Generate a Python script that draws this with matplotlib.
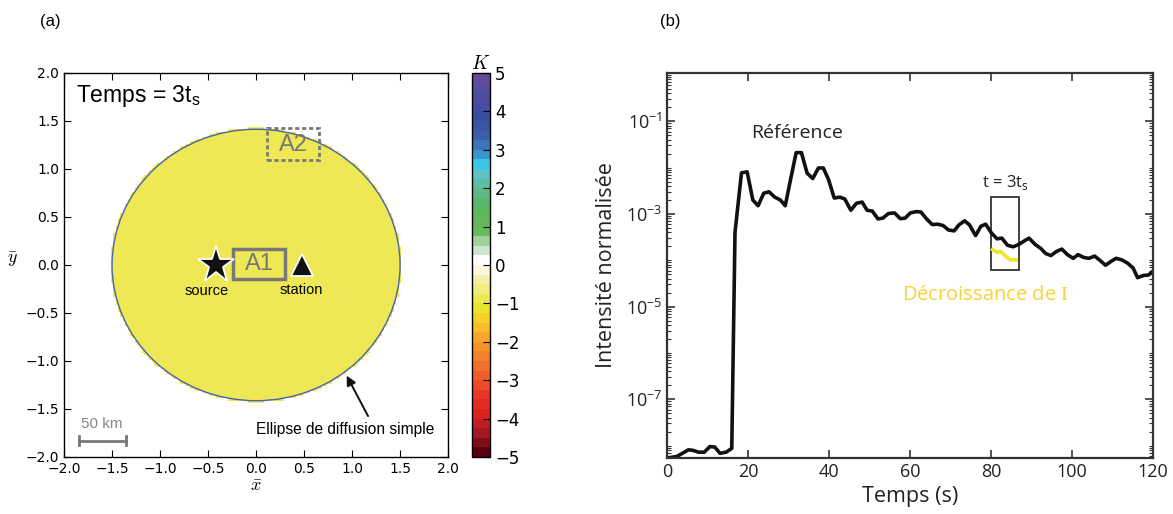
import numpy as np
import matplotlib
matplotlib.use("Agg")
import matplotlib.pyplot as plt
from matplotlib.colors import LinearSegmentedColormap, Normalize
from matplotlib.patches import Ellipse, Rectangle
from matplotlib.ticker import FixedLocator, LogLocator, NullFormatter

# ---- panel (a): K map ----
ellipse_center = (0.0, 0.0)
ellipse_a = 1.5
ellipse_b = 1.414
k_inside = -0.9
source_xy = (-0.42, 0.0)
station_xy = (0.48, 0.0)

cmap_pos = [-5, -4.5, -4, -3.5, -3, -2.5, -2, -1.5, -1.15, -0.9, -0.64, -0.385,
            -0.128, 0.128, 0.385, 0.64, 0.9, 1.5, 2, 2.5, 2.75, 3, 3.5, 4, 4.5, 5]
cmap_cols = ["#5c0010", "#a01a1f", "#d9201f", "#ea3326", "#ee5a2a", "#f07d2a",
             "#f5a02a", "#f9cb27", "#ebe42c", "#eee855", "#f0ec7e", "#f4f0a8",
             "#fbf8dc", "#ffffff", "#cde6cc", "#a3d19a", "#6bbb58", "#5bb55a",
             "#5bbb8d", "#5ec4d2", "#2ec5ee", "#3d87c8", "#3a5ca8", "#3a4d9f",
             "#4f4c9e", "#644b9a"]

# ---- panel (b): normalised intensity ----
t_ref = [0, 2.4, 3.8, 5.3, 6.4, 7.8, 9.2, 10.6, 11.8, 13.1, 14.6, 16.0, 16.8,
         18.4, 19.8, 21.2, 22.5, 23.9, 25.2, 26.6, 28.0, 29.2, 30.6, 31.9, 33.2,
         34.6, 36.0, 37.4, 38.6, 39.9, 41.3, 42.7, 43.9, 45.4, 46.8, 48.2, 49.4,
         50.7, 52.1, 53.3, 54.7, 56.2, 57.6, 58.8, 60.1, 61.5, 62.7, 64.1, 65.5,
         66.9, 68.2, 69.5, 70.9, 72.1, 73.5, 74.7, 76.2, 77.5, 78.7, 80.1, 81.5,
         82.7, 84.1, 85.5, 86.9, 88.2, 89.4, 90.9, 92.3, 93.5, 94.8, 96.2, 97.5,
         98.9, 100.3, 101.5, 102.9, 104.2, 105.6, 107.0, 108.3, 109.7, 110.9,
         112.3, 113.7, 115.1, 116.2, 117.7, 118.9, 120.2]
i_ref = [5.4e-9, 5.8e-9, 6.8e-9, 8.1e-9, 7.9e-9, 7.2e-9, 7.2e-9, 9.5e-9, 9.3e-9,
         6.8e-9, 7.2e-9, 8.7e-9, 4.0e-4,
         7.7e-3, 8.1e-3, 2.0e-3, 1.5e-3, 2.8e-3, 3.0e-3, 2.3e-3, 2.0e-3, 1.5e-3,
         6.0e-3, 2.1e-2, 2.1e-2, 7.6e-3, 5.8e-3, 9.8e-3, 9.8e-3, 5.5e-3, 2.2e-3,
         2.3e-3, 2.1e-3, 1.2e-3, 1.7e-3, 1.8e-3, 1.2e-3, 1.15e-3, 7.8e-4, 8.1e-4,
         1.02e-3, 1.05e-3, 7.9e-4, 8.1e-4, 1.05e-3, 1.12e-3, 1.10e-3, 7.8e-4,
         5.9e-4, 6.0e-4, 5.6e-4, 4.5e-4, 4.3e-4, 5.8e-4, 7.1e-4, 5.8e-4, 3.4e-4,
         5.4e-4, 6.0e-4, 3.9e-4, 2.9e-4, 3.0e-4, 2.1e-4, 1.95e-4, 2.2e-4, 2.6e-4,
         3.0e-4, 2.2e-4, 1.8e-4, 1.4e-4, 1.26e-4, 1.55e-4, 1.74e-4, 1.32e-4,
         1.10e-4, 1.32e-4, 1.15e-4, 1.10e-4, 1.23e-4, 9.8e-5, 7.8e-5, 9.5e-5,
         1.10e-4, 1.02e-4, 8.7e-5, 6.8e-5, 4.2e-5, 4.7e-5, 4.8e-5, 6.0e-5]
t_dec = [80.4, 81.5, 82.4, 83.6, 84.8, 86.2]
i_dec = [1.7e-4, 1.48e-4, 1.55e-4, 1.23e-4, 1.02e-4, 1.02e-4]
win_t = (80.1, 86.9)
win_i = (6.3e-5, 2.3e-3)

fig = plt.figure(figsize=(11.73, 5.14), dpi=100)
ax = fig.add_axes([0.0546, 0.111, 0.3274, 0.747])
cax = fig.add_axes([0.4024, 0.111, 0.0153, 0.747])
bx = fig.add_axes([0.5686, 0.109, 0.4143, 0.749])

# colormap, 40 discrete levels
cmap = LinearSegmentedColormap.from_list(
    "kmap", [((p + 5) / 10, c) for p, c in zip(cmap_pos, cmap_cols)], N=40)
norm = Normalize(-5, 5)

gx = np.linspace(-2, 2, 161)
X, Y = np.meshgrid(gx, gx)
inside = ((X - ellipse_center[0]) / ellipse_a) ** 2 + ((Y - ellipse_center[1]) / ellipse_b) ** 2 <= 1.02
K = np.where(inside, k_inside, np.nan)
mesh = ax.pcolormesh(X, Y, np.ma.masked_invalid(K), cmap=cmap, norm=norm, shading="nearest")
ax.add_patch(Ellipse(ellipse_center, 2 * ellipse_a, 2 * ellipse_b, fill=False,
                     ec="#4a62b0", lw=1.0))

ax.set_xlim(-2, 2)
ax.set_ylim(-2, 2)
ax.set_xticks(np.arange(-2, 2.01, 0.5))
ax.set_yticks(np.arange(-2, 2.01, 0.5))
ax.tick_params(direction="in", top=True, right=True, labelsize=10, length=5)
ax.set_xlabel(r"$\bar{x}$", fontsize=13, labelpad=1, math_fontfamily="cm")
ax.set_ylabel(r"$\bar{y}$", fontsize=13, rotation=0, math_fontfamily="cm")
ax.yaxis.set_label_coords(-0.135, 0.49)
for s in ax.spines.values():
    s.set_linewidth(1.0)

hfont = "Liberation Sans"
ax.plot(*source_xy, marker="*", ms=28, color="#111111", mec="white", mew=1.3, zorder=5)
ax.plot(*station_xy, marker="^", ms=16, color="#111111", mec="white", mew=1.3, zorder=5)
ax.text(-0.52, -0.27, "source", ha="center", va="center", fontsize=10.5, family=hfont)
ax.text(0.47, -0.26, "station", ha="center", va="center", fontsize=10.5, family=hfont)

ax.add_patch(Rectangle((-0.24, -0.15), 0.54, 0.32, fill=False, ec="#777777", lw=2.5, zorder=4))
ax.text(0.03, 0.01, "A1", ha="center", va="center", fontsize=17, color="#777777", family=hfont)
ax.add_patch(Rectangle((0.11, 1.093), 0.55, 0.33, fill=False, ec="#777777", lw=2.0,
                       ls=(0, (1.5, 1)), zorder=4))
ax.text(0.39, 1.255, "A2", ha="center", va="center", fontsize=17, color="#777777", family=hfont)

ax.text(-1.88, 1.76, r"Temps = 3t$_\mathregular{s}$", ha="left", va="center",
        fontsize=16.5, family=hfont)

ax.plot([-1.84, -1.35], [-1.83, -1.83], color="#777777", lw=2)
ax.plot([-1.84, -1.84], [-1.88, -1.78], color="#777777", lw=2)
ax.plot([-1.35, -1.35], [-1.88, -1.78], color="#777777", lw=2)
ax.text(-1.61, -1.66, "50 km", ha="center", va="center", fontsize=11, color="#888888", family=hfont)

ax.annotate("", xy=(0.93, -1.127), xytext=(1.18, -1.60),
            arrowprops=dict(arrowstyle="-|>", color="#111111", lw=1.4, mutation_scale=14))
ax.text(0.93, -1.715, "Ellipse de diffusion simple", ha="center", va="center",
        fontsize=11.2, family=hfont)

cb = fig.colorbar(mesh, cax=cax, ticks=range(-5, 6))
cb.ax.tick_params(direction="in", labelsize=12, length=5)
cb.outline.set_linewidth(1.0)
cax.set_title(r"$K$", fontsize=14, pad=3, math_fontfamily="cm")

fig.text(0.034, 0.958, "(a)", fontsize=12, family=hfont, va="center")
fig.text(0.5627, 0.958, "(b)", fontsize=12, family=hfont, va="center")

# ---- panel (b) ----
bfont = "Open Sans"
bx.semilogy(t_ref, i_ref, color="#111111", lw=2.6, solid_joinstyle="round")
bx.semilogy(t_dec, i_dec, color="#efe52a", lw=2.6)
bx.add_patch(Rectangle((win_t[0], win_i[0]), win_t[1] - win_t[0], win_i[1] - win_i[0],
                       fill=False, ec="#333333", lw=1.3))
bx.set_xlim(0, 120)
bx.set_ylim(5.4e-9, 1.1)
bx.set_xticks(range(0, 121, 20))
bx.yaxis.set_major_locator(FixedLocator([1e-7, 1e-5, 1e-3, 1e-1]))
bx.yaxis.set_minor_locator(LogLocator(base=10, subs=np.arange(1, 10)))
bx.yaxis.set_minor_formatter(NullFormatter())
bx.set_yticklabels([r"10$^\mathregular{-7}$", r"10$^\mathregular{-5}$",
                    r"10$^\mathregular{-3}$", r"10$^\mathregular{-1}$"])
bx.tick_params(which="both", direction="in", top=True, right=True, colors="#333333",
               labelcolor="#222222")
bx.tick_params(which="major", length=6, width=1.2, labelsize=13)
bx.tick_params(which="minor", length=3, width=0.8)
for lab in bx.get_xticklabels() + bx.get_yticklabels():
    lab.set_family(bfont)
for s in bx.spines.values():
    s.set_linewidth(1.6)
    s.set_color("#333333")
bx.set_xlabel("Temps (s)", fontsize=15.5, family=bfont, color="#222222", labelpad=4)
bx.set_ylabel("Intensité normalisée", fontsize=15.5, family=bfont, color="#222222", labelpad=6)

bx.text(32.2, 10 ** -1.25, "Référence", ha="center", va="center", fontsize=14,
        family=bfont, color="#222222")
bx.text(83.5, 10 ** -2.33, r"t = 3t$_\mathregular{s}$", ha="center", va="center",
        fontsize=12, family=bfont, color="#222222")
bx.text(78.7, 10 ** -4.74, r"Décroissance de $\mathrm{I}$", ha="center", va="center",
        fontsize=14.5, family=bfont, color="#f8d23a", math_fontfamily="stix")

fig.savefig("out.png", dpi=100)
